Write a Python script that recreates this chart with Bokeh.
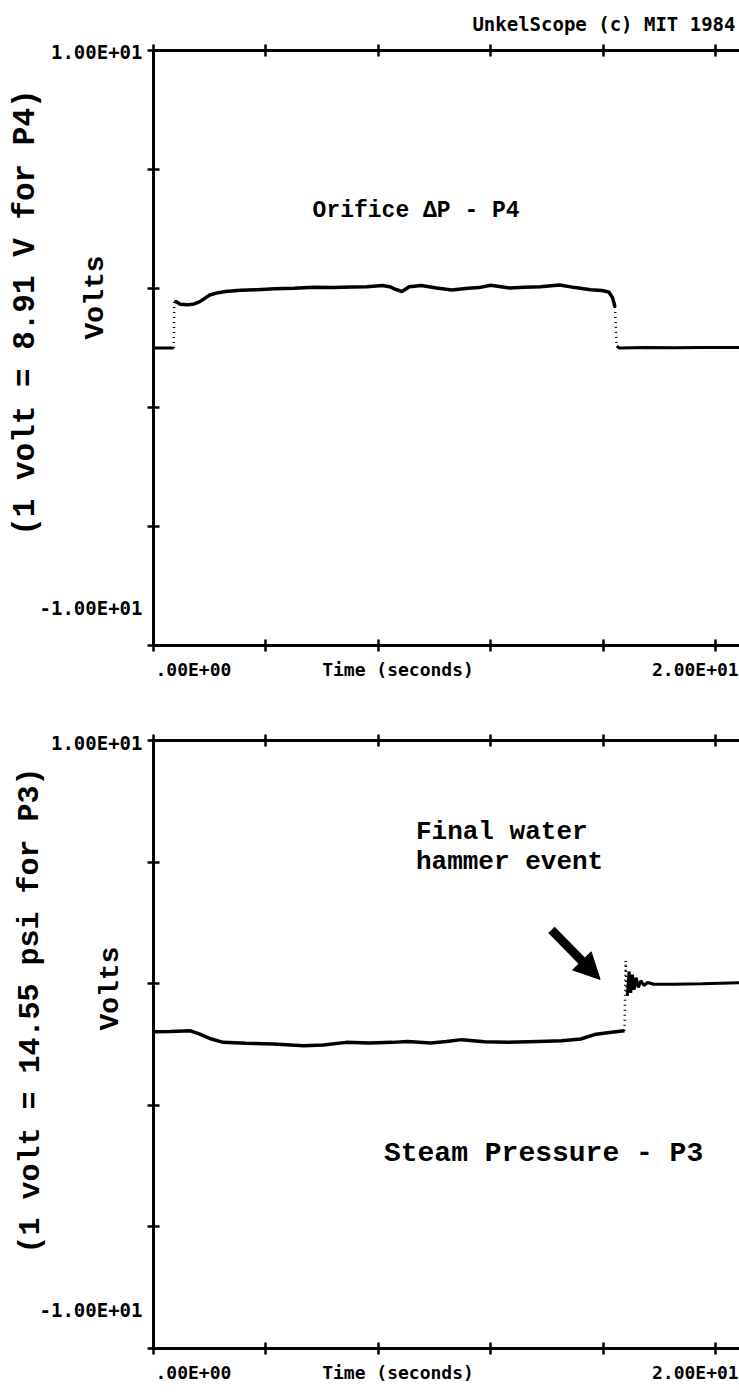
from bokeh.plotting import figure
from bokeh.layouts import column, row
from bokeh.models import (FixedTicker, Label, Arrow, NormalHead, LinearAxis,
                          Range1d, CustomJSTickFormatter, Title)
from bokeh.embed import file_html
from bokeh.resources import INLINE

# ---- time / voltage scales -------------------------------------------------
time_ticks = [0, 4, 8, 12, 16, 20]
volt_ticks = [-10, -6, -2, 2, 6, 10]
t_max = 20.85
time_label_pos = [1.42, 8.7, 19.28]
time_label_text = [".00E+00", "Time (seconds)", "2.00E+01"]
volt_label_pos = [10, -8.66]
volt_label_text = ["1.00E+01", "-1.00E+01"]

# ---- channel P4 : orifice delta-P (volts) ----------------------------------
p4_pre_t = [0.0, 0.72]
p4_pre_v = [0.0, 0.0]
p4_t = [0.74, 0.80, 0.95, 1.2, 1.45, 1.65, 2.0, 2.3, 2.55, 3.1, 3.7, 4.3,
        5.0, 5.7, 6.4, 7.06, 7.6, 8.15, 8.4, 8.57, 8.84, 9.1, 9.53, 10.07,
        10.62, 11.1, 11.58, 12.0, 12.67, 13.2, 13.77, 14.45, 15.0, 15.55,
        15.95, 16.2, 16.33, 16.42]
p4_v = [1.55, 1.56, 1.47, 1.45, 1.48, 1.56, 1.78, 1.86, 1.90, 1.94, 1.96,
        1.99, 2.01, 2.04, 2.03, 2.05, 2.06, 2.10, 2.06, 1.99, 1.90, 2.06,
        2.10, 2.02, 1.95, 2.00, 2.03, 2.11, 2.02, 2.04, 2.06, 2.12, 2.03,
        1.96, 1.93, 1.88, 1.70, 1.38]
p4_post_t = [16.48, 16.58, 17.5, 18.5, 19.5, 20.85]
p4_post_v = [0.06, 0.00, 0.02, 0.01, 0.02, 0.02]

# ---- channel P3 : steam pressure (volts) -----------------------------------
p3_t = [0.0, 0.6, 1.32, 1.65, 2.06, 2.48, 3.3, 4.26, 5.35, 6.04, 6.86, 7.68,
        8.5, 9.04, 9.87, 10.42, 10.96, 11.78, 12.6, 13.7, 14.52, 15.2, 15.75,
        16.3, 16.76]
p3_v = [0.42, 0.43, 0.45, 0.34, 0.18, 0.07, 0.04, 0.02, -0.04, -0.02, 0.07,
        0.05, 0.07, 0.10, 0.05, 0.10, 0.16, 0.09, 0.07, 0.10, 0.12, 0.18,
        0.34, 0.40, 0.45]
p3_jump_t = [16.76, 16.80, 16.84]
p3_jump_v = [0.45, 2.75, 1.60]
p3_post_t = [16.86, 16.92, 16.98, 17.04, 17.10, 17.17, 17.25, 17.34, 17.45,
             17.58, 17.8, 18.5, 19.5, 20.85]
p3_post_v = [1.60, 2.40, 1.70, 2.30, 1.80, 2.20, 1.88, 2.10, 1.94, 2.04,
             1.98, 1.98, 2.00, 2.03]

# water-hammer pointer (time, volts)
hammer_from = (14.16, 3.77)
hammer_to = (15.89, 2.14)

SCOPE_FONT = "DejaVu Sans Mono"
SCOPE_SIZE = "18px"
TYPE_FONT = "Liberation Mono"
MARGIN_W = 145
LEFT_PAD = 8


def label(p, text, x, y, dx=0, dy=0, align="left", size=SCOPE_SIZE,
          font=SCOPE_FONT, angle=0.0):
    p.add_layout(Label(x=x, y=y, x_offset=dx, y_offset=dy, text=text,
                       text_align=align, text_baseline="middle",
                       text_font=font, text_font_size=size,
                       text_font_style="bold", text_color="black",
                       angle=angle))


def scope_panel(height, top, bottom):
    p = figure(width=739 - MARGIN_W, height=height,
               x_range=Range1d(0, t_max), y_range=Range1d(-10, 10),
               output_backend="svg", toolbar_location=None,
               min_border_left=LEFT_PAD, min_border_right=0,
               min_border_top=top, min_border_bottom=bottom,
               outline_line_color=None, background_fill_color="white",
               border_fill_color="white")
    p.grid.visible = False
    p.add_layout(LinearAxis(), "above")
    for ax in p.axis:
        ax.axis_line_width = 3
        ax.axis_line_color = "black"
        ax.major_tick_in = 6
        ax.major_tick_out = 6
        ax.major_tick_line_width = 2.5
        ax.minor_tick_line_color = None
        ax.formatter = CustomJSTickFormatter(code="return ''")
        ax.major_label_standoff = 0
        ax.major_label_text_font_size = "1px"
    for ax in p.xaxis:
        ax.ticker = FixedTicker(ticks=time_ticks)
    for ax in p.yaxis:
        ax.ticker = FixedTicker(ticks=volt_ticks)

    # printed scale values under the time axis
    names = LinearAxis(ticker=FixedTicker(ticks=time_label_pos),
                       major_label_overrides=dict(zip(time_label_pos,
                                                      time_label_text)),
                       axis_line_color=None, major_tick_line_color=None,
                       minor_tick_line_color=None, major_tick_in=0,
                       major_tick_out=0, major_label_standoff=7,
                       major_label_text_font=SCOPE_FONT,
                       major_label_text_font_size=SCOPE_SIZE,
                       major_label_text_font_style="bold",
                       major_label_text_color="black")
    p.add_layout(names, "below")
    return p


def margin_panel(height, top, bottom):
    ppv = (height - top - bottom) / 20.0
    m = figure(width=MARGIN_W, height=height, x_range=Range1d(0, MARGIN_W),
               y_range=Range1d(-10 - bottom / ppv, 10 + top / ppv),
               output_backend="svg", toolbar_location=None, min_border=0,
               min_border_left=0, min_border_right=0, min_border_top=0,
               min_border_bottom=0, frame_align=False,
               x_axis_type=None, y_axis_type=None, outline_line_color=None,
               background_fill_color="white", border_fill_color="white")
    m.grid.visible = False
    for v, txt in zip(volt_label_pos, volt_label_text):
        label(m, txt, MARGIN_W - 3, v, dy=-2, align="right", size="19px")
    return m


# ---- upper panel: orifice delta-P ------------------------------------------
top = scope_panel(691, 49, 46)
top.add_layout(Title(text="UnkelScope (c) MIT 1984", align="right",
                     offset=4, standoff=20, text_font=SCOPE_FONT,
                     text_font_size="19px", text_font_style="bold",
                     text_color="black"), "above")
top.line(p4_pre_t, p4_pre_v, line_width=3, color="black")
top.line([p4_pre_t[-1], p4_t[0]], [p4_pre_v[-1], p4_v[0]],
         line_width=2.5, color="black", line_dash="1 4")
top.line(p4_t, p4_v, line_width=3.5, color="black")
top.line([p4_t[-1], p4_post_t[0]], [p4_v[-1], p4_post_v[0]],
         line_width=2.5, color="black", line_dash="1 4")
top.line(p4_post_t, p4_post_v, line_width=3, color="black")
label(top, "Orifice \u0394P - P4", 5.66, 4.6, size="23px", font=TYPE_FONT)

top_m = margin_panel(691, 49, 46)
label(top_m, "Volts", 95, 1.68, size="28px", font=TYPE_FONT,
      align="center", angle=1.5708)
label(top_m, "(1 volt = 8.91 V for P4)", 25, 1.17, size="31px",
      font=TYPE_FONT, align="center", angle=1.5708)

# ---- lower panel: steam pressure -------------------------------------------
bot = scope_panel(704, 49, 47)
bot.line(p3_t, p3_v, line_width=3.5, color="black")
bot.line(p3_jump_t, p3_jump_v, line_width=2.5, color="black",
         line_dash="1 4")
bot.line(p3_post_t, p3_post_v, line_width=3, color="black")
bot.add_layout(Arrow(end=NormalHead(size=26, fill_color="black",
                                    line_color="black"),
                     x_start=hammer_from[0], y_start=hammer_from[1],
                     x_end=hammer_to[0], y_end=hammer_to[1],
                     line_width=9, line_color="black"))
label(bot, " Final water", 16.0, 7.0, size="26px", font=TYPE_FONT,
      align="right")
label(bot, "hammer event", 16.0, 6.0, size="26px", font=TYPE_FONT,
      align="right")
label(bot, "Steam Pressure - P3", 8.2, -3.6, size="28px", font=TYPE_FONT)

bot_m = margin_panel(704, 49, 47)
label(bot_m, "Volts", 110, 1.84, size="28px", font=TYPE_FONT,
      align="center", angle=1.5708)
label(bot_m, "(1 volt = 14.55 psi for P3)", 30, 1.12, size="30px",
      font=TYPE_FONT, align="center", angle=1.5708)

layout = column(row(top_m, top), row(bot_m, bot))
open("out.html", "w").write(file_html(layout, INLINE))
